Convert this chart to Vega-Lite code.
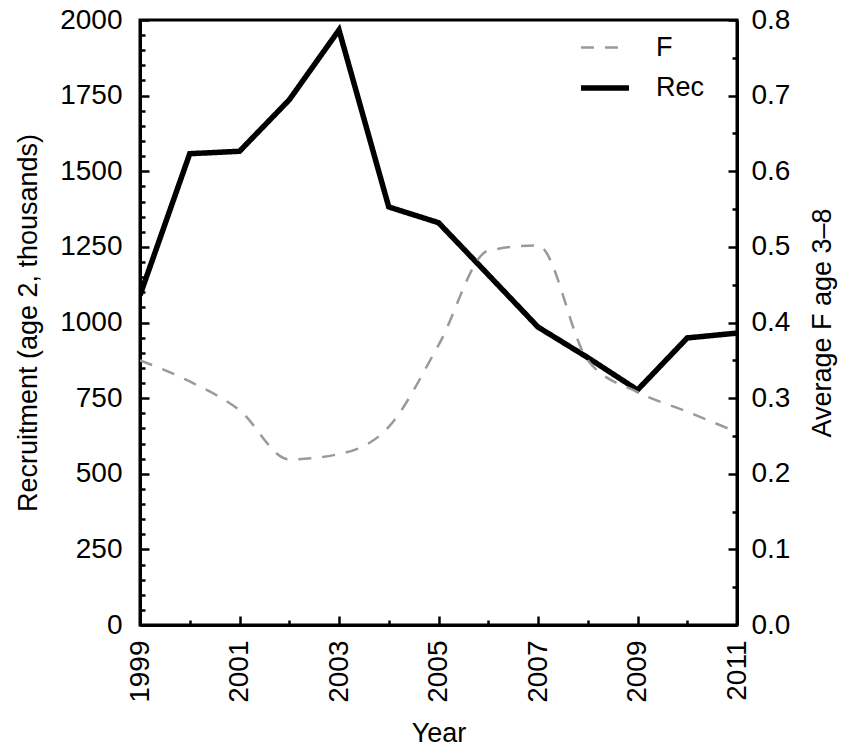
{
  "$schema": "https://vega.github.io/schema/vega-lite/v6.json",
  "autosize": {"type": "none"},
  "width": 597,
  "height": 605,
  "padding": {"left": 140, "top": 20, "right": 113, "bottom": 124},
  "background": "white",
  "config": {
    "font": "Liberation Sans",
    "view": {"stroke": "black", "strokeWidth": 3},
    "axis": {"grid": false, "domainColor": "black", "domainWidth": 3, "tickColor": "black", "tickWidth": 2.5, "labelFontSize": 28, "titleFontSize": 27, "labelColor": "black", "titleColor": "black", "titleFontWeight": "normal", "labelFont": "Liberation Sans", "titleFont": "Liberation Sans"}
  },
  "data": {"values": [
    {"year": 1999, "series": "Rec", "value": 1090},
    {"year": 2000, "series": "Rec", "value": 1558},
    {"year": 2001, "series": "Rec", "value": 1566},
    {"year": 2002, "series": "Rec", "value": 1736},
    {"year": 2003, "series": "Rec", "value": 1967},
    {"year": 2004, "series": "Rec", "value": 1382},
    {"year": 2005, "series": "Rec", "value": 1330},
    {"year": 2006, "series": "Rec", "value": 1158},
    {"year": 2007, "series": "Rec", "value": 985},
    {"year": 2008, "series": "Rec", "value": 884},
    {"year": 2009, "series": "Rec", "value": 777},
    {"year": 2010, "series": "Rec", "value": 949},
    {"year": 2011, "series": "Rec", "value": 965},
    {"year": 1999, "series": "F", "value": 0.350},
    {"year": 2000, "series": "F", "value": 0.322},
    {"year": 2001, "series": "F", "value": 0.284},
    {"year": 2002, "series": "F", "value": 0.219},
    {"year": 2003, "series": "F", "value": 0.226},
    {"year": 2004, "series": "F", "value": 0.262},
    {"year": 2005, "series": "F", "value": 0.37},
    {"year": 2006, "series": "F", "value": 0.495},
    {"year": 2007, "series": "F", "value": 0.502},
    {"year": 2008, "series": "F", "value": 0.35},
    {"year": 2009, "series": "F", "value": 0.308},
    {"year": 2010, "series": "F", "value": 0.282},
    {"year": 2011, "series": "F", "value": 0.255}
  ]},
  "encoding": {
    "x": {
      "field": "year", "type": "quantitative",
      "scale": {"domain": [1999, 2011], "nice": false, "zero": false},
      "axis": {
        "title": "Year",
        "values": [1999, 2000, 2001, 2002, 2003, 2004, 2005, 2006, 2007, 2008, 2009, 2010, 2011],
        "labelExpr": "datum.value % 2 === 1 ? '' + datum.value : ''",
        "labelAngle": 270,
        "labelAlign": "right",
        "labelBaseline": "middle",
        "tickSize": {"condition": {"test": "datum.value % 2 === 1", "value": -9}, "value": -5},
        "labelPadding": 24,
        "labelOverlap": false,
        "labelFlush": false,
        "titlePadding": 18
      }
    },
    "color": {"field": "series", "type": "nominal", "scale": {"domain": ["F", "Rec"], "range": ["#9a9a9a", "#000000"]},
      "legend": {"title": null, "orient": "none", "legendX": 438, "legendY": 2, "symbolType": "stroke", "symbolSize": 2304, "labelFontSize": 27, "labelOffset": 24, "rowPadding": -13, "labelColor": "black", "labelFont": "Liberation Sans"}},
    "strokeDash": {"field": "series", "type": "nominal", "scale": {"domain": ["F", "Rec"], "range": [[13, 11], [1, 0]]},
      "legend": {"title": null, "orient": "none", "legendX": 438, "legendY": 2, "symbolType": "stroke", "symbolSize": 2304, "labelFontSize": 27, "labelOffset": 24, "rowPadding": -13, "labelColor": "black", "labelFont": "Liberation Sans"}},
    "strokeWidth": {"field": "series", "type": "nominal", "scale": {"domain": ["F", "Rec"], "range": [2.5, 5.5]},
      "legend": {"title": null, "orient": "none", "legendX": 438, "legendY": 2, "symbolType": "stroke", "symbolSize": 2304, "labelFontSize": 27, "labelOffset": 24, "rowPadding": -13, "labelColor": "black", "labelFont": "Liberation Sans"}}
  },
  "layer": [
    {
      "transform": [{"filter": "datum.series === 'Rec'"}],
      "mark": {"type": "line", "strokeJoin": "miter", "clip": true},
      "encoding": {
        "y": {
          "field": "value", "type": "quantitative",
          "scale": {"domain": [0, 2000], "nice": false},
          "axis": {
            "title": "Recruitment (age 2, thousands)",
            "orient": "left",
            "values": [0,50,100,150,200,250,300,350,400,450,500,550,600,650,700,750,800,850,900,950,1000,1050,1100,1150,1200,1250,1300,1350,1400,1450,1500,1550,1600,1650,1700,1750,1800,1850,1900,1950,2000],
            "labelExpr": "datum.value % 250 === 0 ? '' + datum.value : ''",
            "tickSize": {"condition": {"test": "datum.value % 250 === 0", "value": -9}, "value": -5},
            "labelPadding": 27,
            "labelOverlap": false,
            "labelFlush": false,
            "titlePadding": 17
          }
        }
      }
    },
    {
      "transform": [{"filter": "datum.series === 'F'"}],
      "mark": {"type": "line", "interpolate": "monotone", "clip": true},
      "encoding": {
        "y": {
          "field": "value", "type": "quantitative",
          "scale": {"domain": [0, 0.8], "nice": false},
          "axis": {
            "title": "Average F age 3\u20138",
            "orient": "right",
            "titleAngle": 270,
            "titleBaseline": "top",
            "values": [0,0.05,0.1,0.15,0.2,0.25,0.3,0.35,0.4,0.45,0.5,0.55,0.6,0.65,0.7,0.75,0.8],
            "labelExpr": "round(datum.value * 20) % 2 === 0 ? format(datum.value, '.1f') : ''",
            "tickSize": {"condition": {"test": "round(datum.value * 20) % 2 === 0", "value": -9}, "value": -5},
            "labelPadding": 23,
            "labelOverlap": false,
            "labelFlush": false,
            "titlePadding": 20
          }
        }
      }
    }
  ],
  "resolve": {"scale": {"y": "independent"}}
}
